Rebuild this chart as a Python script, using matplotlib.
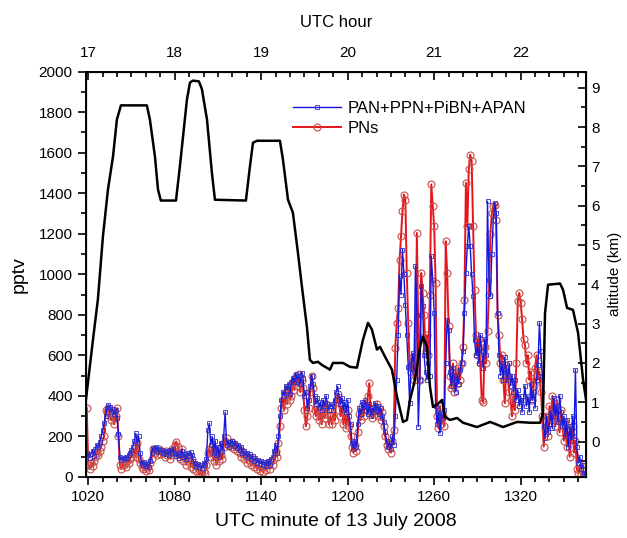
import numpy as np
import matplotlib
matplotlib.use("Agg")
import matplotlib.pyplot as plt
from matplotlib.ticker import MultipleLocator

plt.rcParams['font.family'] = ['Liberation Sans', 'DejaVu Sans']

# PAN+PPN+PiBN+APAN (pptv), one value per minute starting at 1019
pan_pptv = [
    120, 110, 95, 115, 130, 105, 140, 160, 150, 175,
    200, 230, 265, 300, 340, 355, 345, 320, 335, 310,
    330, 290, 210, 100, 85, 95, 90, 100, 95, 110,
    120, 135, 150, 180, 215, 170, 200, 120, 70, 60,
    75, 55, 65, 50, 80, 120, 145, 140, 150, 130,
    140, 125, 135, 120, 130, 115, 125, 110, 135, 120,
    140, 115, 105, 120, 95, 110, 130, 100, 115, 90,
    120, 105, 125, 110, 80, 70, 55, 65, 50, 60,
    45, 70, 60, 90, 230, 265, 160, 200, 120, 180,
    110, 150, 100, 170, 130, 200, 320, 160, 175, 150,
    165, 180, 155, 170, 145, 160, 135, 150, 120, 130,
    110, 120, 100, 115, 90, 105, 80, 95, 70, 85,
    65, 80, 60, 75, 55, 70, 80, 60, 90, 100,
    130, 160, 120, 200, 300, 380, 420, 400, 450, 430,
    460, 410, 470, 490, 470, 510, 480, 500, 460, 515,
    490, 400, 420, 340, 380, 450, 500, 460, 400, 360,
    390, 340, 370, 330, 380, 350, 400, 360, 330, 350,
    360, 330, 380, 420, 447, 400, 360, 390, 330, 370,
    320, 380, 300, 260, 170, 140, 180, 150, 260, 340,
    310, 370, 330, 380, 350, 310, 360, 300, 340, 320,
    365, 330, 350, 310, 340, 300, 270, 220, 180, 150,
    170, 140, 200, 160, 300, 480, 700, 990, 900, 1122,
    1000, 850, 700, 545, 364, 560, 610, 520, 1040, 800,
    249, 480, 940, 842, 600, 520, 480, 560, 500, 1089,
    974, 809, 350, 260, 320, 216, 315, 290, 330, 560,
    776, 726, 520, 450, 540, 480, 420, 500, 460, 530,
    560, 620, 809, 1006, 1138, 1237, 1138, 1000, 891, 677,
    600, 650, 560, 700, 620, 540, 680, 600, 1360, 973,
    891, 1100, 1270, 1352, 1303, 809, 600, 500, 560, 480,
    590, 520, 480, 560, 450, 500, 420, 480, 380, 430,
    350, 400, 320, 380, 450, 350, 400, 320, 460, 380,
    420, 340, 480, 550, 760, 620, 500, 250, 190, 300,
    220, 260, 320, 240, 390, 300, 350, 270, 400, 320,
    250, 300, 200, 280, 150, 250, 180, 300, 200, 529,
    150, 70, 100, 40, 60, 20, 10,
]

# PNs (pptv), one value per minute starting at 1019
pns_pptv = [
    340, 60, 40, 70, 55, 80, 100, 120, 110, 130,
    150, 180, 200, 330, 320, 340, 300, 280, 310, 260,
    300, 340, 200, 60, 40, 70, 60, 50, 80, 70,
    90, 100, 120, 130, 100, 170, 90, 70, 50, 40,
    60, 30, 45, 35, 70, 90, 140, 120, 130, 110,
    140, 115, 130, 120, 100, 130, 110, 125, 90, 140,
    110, 160, 175, 150, 120, 90, 140, 80, 110, 60,
    100, 80, 50, 90, 40, 60, 30, 50, 10, 40,
    0, 30, 20, 60, 120, 140, 100, 150, 80, 120,
    60, 140, 80, 110, 90, 150, 180, 190, 160, 170,
    150, 175, 140, 160, 130, 150, 120, 100, 130, 90,
    110, 70, 100, 80, 60, 90, 50, 70, 40, 60,
    30, 55, 25, 50, 35, 60, 70, 40, 80, 60,
    90, 130, 100, 170, 250, 340, 380, 330, 420, 360,
    440, 380, 400, 470, 430, 500, 450, 510, 420, 480,
    440, 330, 250, 300, 340, 420, 500, 440, 330, 300,
    350, 280, 320, 260, 330, 290, 360, 310, 260, 300,
    260, 310, 280, 370, 410, 380, 300, 350, 260, 310,
    240, 330, 250, 200, 150, 120, 160, 130, 220, 310,
    280, 350, 300, 360, 330, 400, 463, 320, 290, 340,
    310, 360, 300, 340, 280, 320, 250, 200, 160, 140,
    170, 120, 180, 233, 637, 760, 834, 1072, 1187, 1311,
    1393, 1368, 1006, 760, 545, 520, 590, 480, 560, 1204,
    700, 480, 1006, 908, 800, 620, 700, 600, 900, 1443,
    1336, 1237, 957, 300, 240, 350, 260, 300, 250, 1163,
    1006, 743, 500, 440, 560, 420, 520, 460, 540, 480,
    560, 640, 875, 1451, 1237, 1517, 1590, 1560, 1237, 924,
    700, 600, 680, 560, 380, 370, 640, 560, 720, 900,
    1200, 1300, 1335, 1344, 1270, 800, 700, 560, 600, 480,
    364, 550, 500, 420, 380, 300, 400, 330, 560, 870,
    908, 860, 780, 680, 650, 560, 600, 480, 520, 380,
    450, 540, 600, 480, 520, 420, 300, 150, 240, 300,
    200, 350, 280, 400, 320, 250, 380, 300, 220, 330,
    260, 180, 270, 150, 220, 100, 200, 250, 120, 180,
    40, 20, 60, 10, 30, 5, 15,
]

pan_min = 1019 + np.arange(len(pan_pptv))
pns_min = 1019 + np.arange(len(pns_pptv))

# aircraft altitude (km)
alt_min = [1018.4, 1023.3, 1026.7, 1030.2, 1033.7, 1037.2, 1039.9, 1042.7, 1060.7, 1062.8,
           1066.3, 1068.4, 1070.4, 1080.9, 1083.6, 1088.5, 1090.6, 1092.7, 1096.8, 1098.9,
           1102.4, 1105.8, 1107.9, 1129.4, 1132.2, 1134.3, 1137.1, 1153.0, 1155.1, 1158.6,
           1162.0, 1165.5, 1168.3, 1171.7, 1173.8, 1175.9, 1179.4, 1182.1, 1187.7, 1189.8,
           1196.7, 1201.6, 1206.4, 1210.6, 1214.1, 1216.8, 1220.3, 1222.4, 1225.9, 1230.7,
           1234.2, 1238.4, 1241.1, 1243.2, 1246.7, 1250.2, 1252.2, 1255.0, 1257.1, 1259.2,
           1262.0, 1265.5, 1267.5, 1271.0, 1275.9, 1280.0, 1289.7, 1298.8, 1307.8, 1317.5,
           1326.5, 1333.5, 1335.5, 1336.9, 1339.0, 1347.3, 1349.4, 1352.2, 1356.3, 1359.8,
           1363.3, 1366.7]
alt_km = [1.06, 2.59, 3.61, 5.21, 6.41, 7.25, 8.19, 8.55, 8.55, 8.19,
          7.25, 6.41, 6.13, 6.13, 7.00, 8.70, 9.13, 9.18, 9.16, 8.96,
          8.19, 6.84, 6.15, 6.13, 7.00, 7.60, 7.65, 7.65, 7.17, 6.15,
          5.82, 4.80, 3.93, 2.92, 2.08, 2.00, 2.03, 1.95, 1.83, 2.00,
          2.00, 1.90, 1.88, 2.59, 3.02, 2.85, 2.34, 2.41, 2.16, 1.83,
          1.14, 0.50, 0.55, 1.06, 1.57, 2.41, 2.67, 2.41, 1.39, 0.88,
          0.94, 1.06, 0.63, 0.55, 0.60, 0.48, 0.37, 0.50, 0.37, 0.50,
          0.48, 0.48, 0.73, 3.27, 3.99, 4.02, 3.86, 3.40, 3.35, 2.77,
          1.57, 0.73]

fig = plt.figure(figsize=(6.27, 5.38), dpi=100)
ax = fig.add_axes([0.137, 0.1134, 0.798, 0.7536])

ax.plot(pns_min, pns_pptv, color='#e8141b', lw=1.4, marker='o', ms=5,
        mfc='none', mec='#c8504a', mew=0.8, label='PNs', zorder=2)
ax.plot(pan_min, pan_pptv, color='#1414e0', lw=1.0, marker='s', ms=2.2,
        mfc='none', mec='#3030c8', mew=0.6, label='PAN+PPN+PiBN+APAN', zorder=3)

ax.set_xlim(1018.4, 1365.5)
ax.set_ylim(0, 2000)
ax.xaxis.set_major_locator(MultipleLocator(60))
ax.xaxis.set_minor_locator(MultipleLocator(10))
ax.yaxis.set_major_locator(MultipleLocator(200))
ax.yaxis.set_minor_locator(MultipleLocator(100))
ax.tick_params(which='both', direction='out', labelsize=11, width=1.2)
ax.tick_params(which='major', length=6)
ax.tick_params(which='minor', length=3.5)
ax.set_xlabel('UTC minute of 13 July 2008', fontsize=14, labelpad=6)
ax.set_ylabel('pptv', fontsize=14, labelpad=8)
for s in ax.spines.values():
    s.set_linewidth(1.4)

handles, labels = ax.get_legend_handles_labels()
ax.legend(handles[::-1], labels[::-1], loc='upper left', bbox_to_anchor=(0.40, 0.945),
          frameon=False, fontsize=12, handlelength=2.9, labelspacing=0.3,
          borderaxespad=0, handletextpad=0.4)

# altitude on the right
ax2 = ax.twinx()
ax2.plot(alt_min, alt_km, color='black', lw=1.8, zorder=4)
ax2.set_ylim(-0.9, 9.41)
ax2.yaxis.set_major_locator(MultipleLocator(1))
ax2.yaxis.set_minor_locator(MultipleLocator(0.5))
ax2.set_yticks(range(0, 10))
ax2.tick_params(which='both', direction='in', labelsize=11, width=1.2)
ax2.tick_params(which='major', length=6)
ax2.tick_params(which='minor', length=3.5)
ax2.set_ylabel('altitude (km)', fontsize=11, labelpad=6)

# hour axis on top
ax3 = ax.twiny()
ax3.set_xlim(1018.4 / 60, 1365.5 / 60)
ax3.xaxis.set_major_locator(MultipleLocator(1))
ax3.xaxis.set_minor_locator(MultipleLocator(1 / 6))
ax3.tick_params(which='both', direction='in', labelsize=11, width=1.2, pad=8)
ax3.tick_params(which='major', length=6)
ax3.tick_params(which='minor', length=3.5)
ax3.set_xlabel('UTC hour', fontsize=12, labelpad=14)

fig.savefig('out.png', dpi=100)
